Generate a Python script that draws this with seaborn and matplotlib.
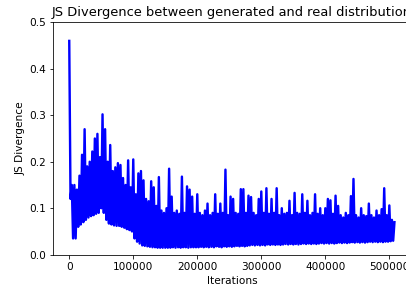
import numpy as np
import pandas as pd
import matplotlib
import matplotlib.pyplot as plt
import seaborn as sns
matplotlib.use('agg')

# JS divergence, one value every 2000 iterations
js_warmup = [0.46, 0.12, 0.15, 0.035, 0.15, 0.035, 0.14, 0.06, 0.17, 0.065,
             0.215, 0.07, 0.27, 0.075, 0.19, 0.08, 0.20, 0.083, 0.222, 0.085,
             0.25, 0.088, 0.26, 0.09, 0.21, 0.10, 0.302, 0.09, 0.27, 0.075,
             0.20, 0.067, 0.236, 0.065, 0.18, 0.063, 0.188, 0.062, 0.197, 0.062,
             0.193, 0.06, 0.165, 0.058, 0.15, 0.055, 0.203, 0.053, 0.145, 0.05,
             0.205, 0.035, 0.13, 0.028, 0.175, 0.024, 0.18, 0.02, 0.16, 0.019]

js_middle = [0.12, 0.018, 0.115, 0.017, 0.158, 0.016, 0.145, 0.016, 0.105, 0.015,
             0.167, 0.015, 0.095, 0.015, 0.09, 0.015, 0.10, 0.015, 0.185, 0.015,
             0.125, 0.016, 0.09, 0.015, 0.095, 0.016, 0.088, 0.015, 0.168, 0.016,
             0.09, 0.016, 0.147, 0.015, 0.14, 0.016, 0.125, 0.016, 0.088, 0.016,
             0.13, 0.016, 0.09, 0.017, 0.085, 0.016, 0.095, 0.017, 0.11, 0.016,
             0.085, 0.017, 0.09, 0.016, 0.13, 0.018, 0.088, 0.017, 0.11, 0.016,
             0.09, 0.018, 0.183, 0.017, 0.085, 0.018, 0.125, 0.017, 0.12, 0.018,
             0.09, 0.019, 0.088, 0.018, 0.141, 0.019, 0.141, 0.018, 0.09, 0.019]

js_late = [0.127, 0.02, 0.124, 0.021, 0.09, 0.02, 0.085, 0.021, 0.12, 0.02,
           0.136, 0.021, 0.09, 0.02, 0.143, 0.022, 0.088, 0.021, 0.12, 0.022,
           0.09, 0.021, 0.143, 0.022, 0.085, 0.021, 0.10, 0.022, 0.088, 0.023,
           0.09, 0.022, 0.116, 0.023, 0.085, 0.022, 0.133, 0.023, 0.09, 0.022,
           0.088, 0.023, 0.13, 0.024, 0.09, 0.023, 0.116, 0.024, 0.085, 0.023,
           0.09, 0.024, 0.13, 0.023, 0.088, 0.024, 0.10, 0.025, 0.085, 0.024,
           0.10, 0.025, 0.12, 0.024, 0.117, 0.025, 0.088, 0.024, 0.127, 0.025,
           0.105, 0.026, 0.085, 0.025, 0.08, 0.026, 0.09, 0.025, 0.085, 0.026,
           0.126, 0.027, 0.163, 0.026, 0.085, 0.027, 0.08, 0.026, 0.10, 0.027,
           0.085, 0.026, 0.083, 0.027, 0.11, 0.028, 0.085, 0.027, 0.08, 0.028,
           0.095, 0.027, 0.085, 0.028, 0.098, 0.027, 0.143, 0.028, 0.085, 0.028,
           0.106, 0.029, 0.075, 0.03, 0.07]

js = js_warmup + js_middle + js_late
iterations = np.arange(len(js)) * 2000

df = pd.DataFrame({"iteration": iterations, "js": js})

plt.rcParams.update({"xtick.labelsize": 10.5, "ytick.labelsize": 10.5,
                     "axes.labelsize": 10.5, "axes.titlesize": 13})

fig = plt.figure(figsize=(406 / 72, 289 / 72), dpi=72)
ax = fig.add_axes([0.1305, 0.1187, 0.8811, 0.8041])
sns.lineplot(data=df, x="iteration", y="js", color="blue", linewidth=2.4,
             estimator=None, sort=False, ax=ax)
ax.set_ylim(0, 0.5)
ax.set_title("JS Divergence between generated and real distribution")
ax.set_xlabel("Iterations")
ax.set_ylabel("JS Divergence")
fig.savefig("out.png", dpi=72)
plt.close(fig)
